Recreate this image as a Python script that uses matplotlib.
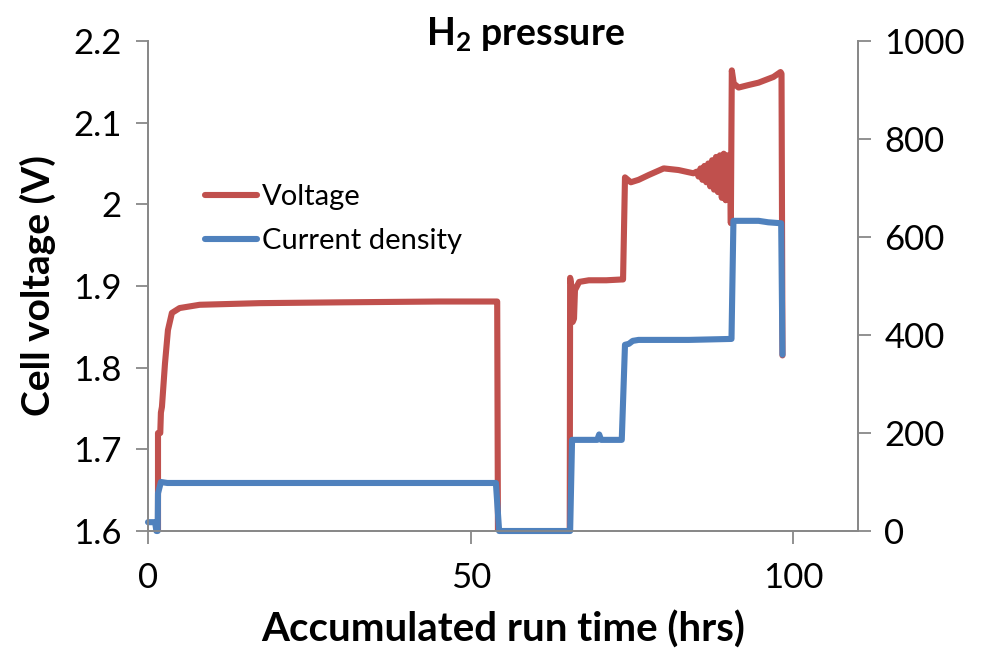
import matplotlib
matplotlib.use("Agg")
import matplotlib.pyplot as plt
from matplotlib.ticker import FuncFormatter

plt.rcParams['font.family'] = ['Lato', 'DejaVu Sans']
plt.rcParams['mathtext.fontset'] = 'custom'
plt.rcParams['mathtext.bf'] = 'Lato:bold'
plt.rcParams['mathtext.rm'] = 'Lato'

# Voltage series (hrs, V)
volt_t = [1.55, 1.55, 1.9, 2.0, 2.16, 2.63, 3.09, 3.7, 4.9, 8.0, 17.3, 30.0, 45.0, 53.9, 54.1,
          54.3, 65.3, 65.4, 65.6, 65.8, 66.0, 66.15, 66.8, 68.3, 71.0, 73.4, 73.6,
          73.9, 74.8, 76.0, 77.6, 79.9, 82.2, 84.5,
          85.0, 85.3, 85.6, 85.9, 86.2, 86.5, 86.8, 87.1, 87.4, 87.7, 88.0, 88.3,
          88.6, 88.9, 89.2, 89.5, 89.8, 90.0, 90.2, 90.3, 90.45,
          90.75, 91.5, 93.0, 94.6, 96.9, 98.0, 98.15, 98.3]
volt_v = [1.40, 1.72, 1.72, 1.745, 1.752, 1.805, 1.846, 1.867, 1.873, 1.877, 1.879, 1.880, 1.881, 1.881, 1.881,
          1.40, 1.40, 1.91, 1.90, 1.856, 1.86, 1.895, 1.905, 1.907, 1.907, 1.908, 1.908,
          2.033, 2.027, 2.030, 2.036, 2.044, 2.042, 2.038,
          2.040, 2.034, 2.044, 2.030, 2.047, 2.027, 2.050, 2.022, 2.054, 2.018, 2.058, 2.015,
          2.060, 2.008, 2.062, 2.005, 2.060, 2.012, 2.040, 1.977, 2.164,
          2.148, 2.143, 2.146, 2.149, 2.156, 2.162, 2.160, 1.815]

# Current density series (hrs, right axis)
cd_t = [0.0, 1.1, 1.3, 1.5, 1.55, 2.0, 3.0, 20.0, 40.0, 53.9, 54.4, 65.4, 65.7, 68.0, 69.6, 69.9,
        70.2, 73.4, 73.9, 74.5, 75.1, 76.0, 83.8, 90.4, 90.7, 94.6, 96.1, 98.1, 98.3]
cd_v = [18, 18, 0, 0, 77, 100, 98, 98, 98, 98, 0, 0, 186, 186, 186, 197,
        186, 186, 380, 382, 388, 390, 390, 392, 633, 633, 630, 628, 360]

x_ticks = [0, 50, 100]
left_ticks = [1.6, 1.7, 1.8, 1.9, 2.0, 2.1, 2.2]
right_ticks = [0, 200, 400, 600, 800, 1000]

red = '#C0504D'
blue = '#4F81BD'
gray = '#888888'

fig = plt.figure(figsize=(9.84, 6.67), dpi=100)
ax = fig.add_axes([148/984, 1-531/667, 710/984, 490/667])
ax2 = ax.twinx()

lv, = ax.plot(volt_t, volt_v, color=red, lw=4.4, solid_joinstyle='round', solid_capstyle='round', label='Voltage')
lc, = ax2.plot(cd_t, cd_v, color=blue, lw=4.4, solid_joinstyle='round', solid_capstyle='round',
               label='Current density', clip_on=False)

ax.set_xlim(0, 110)
ax.set_ylim(1.6, 2.2)
ax2.set_ylim(0, 1000)
ax.set_xticks(x_ticks)
ax.set_yticks(left_ticks)
ax2.set_yticks(right_ticks)
ax.yaxis.set_major_formatter(FuncFormatter(lambda v, p: f"{v:g}"))

for a in (ax, ax2):
    a.spines['top'].set_visible(False)
    for s in ('left', 'right', 'bottom'):
        a.spines[s].set_color(gray)
        a.spines[s].set_linewidth(1.3)
    a.tick_params(colors=gray, labelcolor='black', labelsize=25, length=9, width=1.3, direction='out')

ax.tick_params(axis='x', pad=13)
ax.tick_params(axis='y', pad=10)
ax2.tick_params(axis='y', pad=10)

ax.set_xlabel('Accumulated run time (hrs)', fontsize=29, fontweight='bold', labelpad=12)
ax.set_ylabel('Cell voltage (V)', fontsize=28, fontweight='bold', labelpad=12)
fig.text(525/984, 1 - 35/667, r'H$_{\mathbf{2}}$ pressure', fontsize=27, fontweight='bold',
         ha='center', va='center')

ax2.legend(handles=[lv, lc], loc='upper left', bbox_to_anchor=(0.08, 0.708), frameon=False,
           fontsize=21, handlelength=1.8, handletextpad=0.17, labelspacing=0.62,
           borderpad=0, borderaxespad=0)

fig.savefig('out.png', dpi=100)
